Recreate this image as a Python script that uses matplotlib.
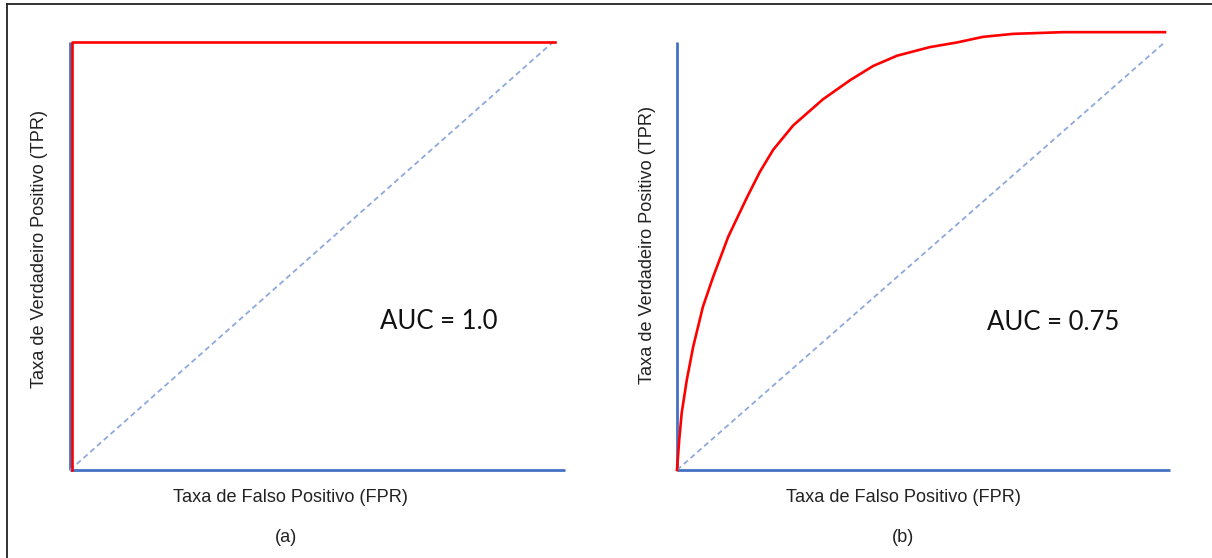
"""Two ROC curve sketches: perfect classifier (a) and typical classifier (b)."""
import matplotlib
matplotlib.use("Agg")
import matplotlib.pyplot as plt
from matplotlib.lines import Line2D

# panel (a): perfect classifier
fpr_a = [0.0, 0.0, 1.0]
tpr_a = [0.0, 1.0, 1.0]

# panel (b): curve
fpr_b = [0.0, 0.0045, 0.0096, 0.020, 0.033, 0.053, 0.074, 0.105, 0.143, 0.170, 0.197,
         0.238, 0.299, 0.355, 0.402, 0.451, 0.518, 0.574, 0.627, 0.689, 0.791, 1.0]
tpr_b = [0.0, 0.070, 0.133, 0.210, 0.287, 0.381, 0.451, 0.545, 0.636, 0.697, 0.748,
         0.805, 0.866, 0.911, 0.944, 0.968, 0.988, 0.999, 1.012, 1.019, 1.023, 1.023]

diag = [0.0, 1.0]
auc_labels = ["AUC = 1.0", "AUC = 0.75"]
panel_labels = ["(a)", "(b)"]
x_title = "Taxa de Falso Positivo (FPR)"
y_title = "Taxa de Verdadeiro Positivo (TPR)"

BLUE = "#4472C4"
DASH_BLUE = "#8EA9DB"
RED = "#FF0000"
TXT = "#222222"

W, H = 1212, 558
plt.rcParams["font.family"] = ["Liberation Sans", "DejaVu Sans"]
fig = plt.figure(figsize=(W / 100, H / 100), dpi=100)

# frame lines on the top and left edge of the picture
fig.add_artist(Line2D([7 / W, 7 / W], [0, 1 - 4 / H], color=TXT, lw=1.3))
fig.add_artist(Line2D([7 / W, 1], [1 - 4 / H, 1 - 4 / H], color=TXT, lw=1.3))


def draw_panel(x0, width, fpr, tpr, auc_text, auc_xy, axis_end):
    ax = fig.add_axes([x0 / W, (H - 470) / H, width / W, 428 / H])
    ax.set_xlim(0, 1)
    ax.set_ylim(0, 1)
    ax.axis("off")
    # axes drawn as blue lines
    ax.plot([0, axis_end], [0, 0], color=BLUE, lw=2.0, clip_on=False,
            solid_capstyle="butt")
    ax.plot([0, 0], [0, 1], color=BLUE, lw=2.0, clip_on=False,
            solid_capstyle="butt")
    ax.plot(diag, diag, color=DASH_BLUE, lw=1.3, dashes=(3, 2), clip_on=False)
    ax.plot(fpr, tpr, color=RED, lw=1.9, clip_on=False, zorder=5,
            solid_joinstyle="round")
    ax.text(auc_xy[0], auc_xy[1], auc_text, fontsize=18.5,
            family=["Lato", "DejaVu Sans"], color="#111111",
            ha="left", va="center", transform=ax.transAxes)
    return ax


ax_a = draw_panel(70, 483, [x + 0.004 for x in fpr_a], tpr_a, auc_labels[0],
                  (0.642, 0.346), 1.025)
ax_b = draw_panel(677, 488, fpr_b, tpr_b, auc_labels[1],
                  (0.635, 0.344), 1.01)

for xc, yl_x, yl_y, lab in [(290, 40, 249, panel_labels[0]),
                            (903, 648, 245, panel_labels[1])]:
    fig.text(xc / W, 1 - 497 / H, x_title, fontsize=13.1, color=TXT,
             ha="center", va="center")
    fig.text((xc - 4 if lab == "(a)" else xc) / W, 1 - 537 / H, lab,
             fontsize=13.1, color=TXT, ha="center", va="center")
    fig.text(yl_x / W, 1 - yl_y / H, y_title, rotation=90, fontsize=13.1,
             color=TXT, ha="center", va="center")

fig.savefig("out.png", dpi=100, facecolor="white")
